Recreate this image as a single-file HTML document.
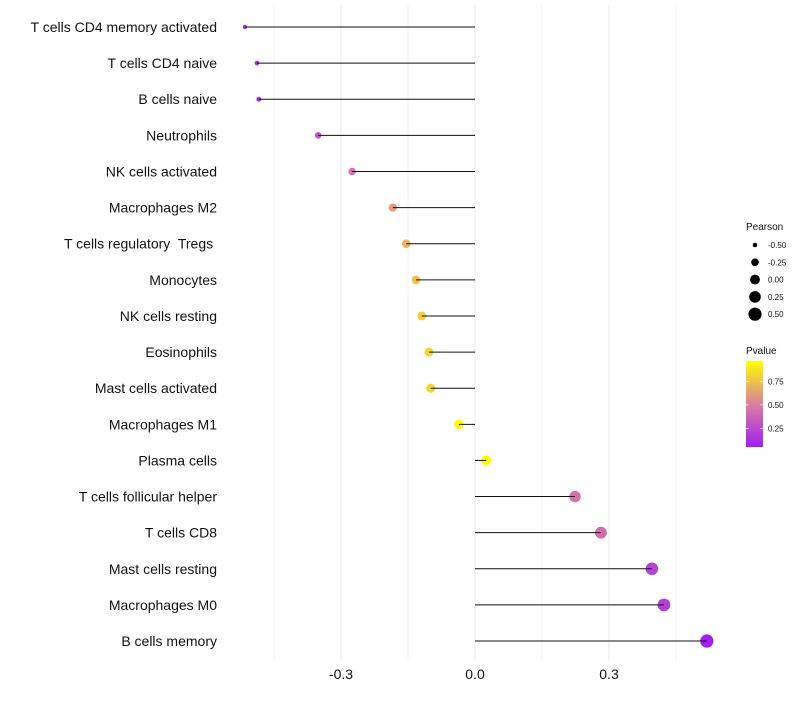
<!DOCTYPE html>
<html><head><meta charset="utf-8"><style>
body{margin:0;background:#fff;font-family:"Liberation Sans",sans-serif;}
</style></head><body>
<svg id="chart" width="800" height="700" xmlns="http://www.w3.org/2000/svg" font-family="Liberation Sans, sans-serif"></svg>
<script>
const categories=["T cells CD4 memory activated","T cells CD4 naive","B cells naive","Neutrophils","NK cells activated","Macrophages M2","T cells regulatory\u00a0 Tregs\u00a0","Monocytes","NK cells resting","Eosinophils","Mast cells activated","Macrophages M1","Plasma cells","T cells follicular helper","T cells CD8","Mast cells resting","Macrophages M0","B cells memory"];
const pearson=[-0.515,-0.488,-0.484,-0.351,-0.275,-0.184,-0.154,-0.132,-0.119,-0.103,-0.099,-0.036,0.025,0.224,0.282,0.396,0.423,0.519];
const pvalues=[0.08,0.1,0.1,0.32,0.45,0.62,0.7,0.76,0.8,0.82,0.82,0.96,0.96,0.45,0.42,0.22,0.2,0.05];
const xTicks=[-0.3,0,0.3];
const xTickLabels=["-0.3","0.0","0.3"];
const gridVals=[-0.45,-0.3,-0.15,0,0.15,0.3,0.45];
const sizeLegend=[-0.5,-0.25,0,0.25,0.5];
const sizeLegendLabels=["-0.50","-0.25","0.00","0.25","0.50"];
const colorTicks=[0.25,0.5,0.75];

const NS="http://www.w3.org/2000/svg";
const svg=document.getElementById('chart');
function el(t,a,p){const e=document.createElementNS(NS,t);for(const k in a)e.setAttribute(k,a[k]);(p||svg).appendChild(e);return e;}
const x=v=>475+v*446.7;
const y=i=>27+i*36.12;
const r=v=>Math.sqrt(4.5+Math.max(0,v+0.52)*38);
function lerp(a,b,t){return a.map((c,i)=>Math.round(c+(b[i]-c)*t));}
const stops=[[0,[160,32,240]],[0.5,[217,128,160]],[1,[255,255,0]]];
const pmin=0.05,pmax=0.97;
function col(p){let t=Math.max(0,Math.min(1,(p-pmin)/(pmax-pmin)));let c=t<0.5?lerp(stops[0][1],stops[1][1],t/0.5):lerp(stops[1][1],stops[2][1],(t-0.5)/0.5);return `rgb(${c})`;}

gridVals.forEach(g=>{const l=el('line',{x1:x(g),x2:x(g),y1:5,y2:660,stroke:'#ebebeb','stroke-width':xTicks.includes(g)?1.1:0.6});

});
xTicks.forEach((t,i)=>{const tx=el('text',{x:x(t),y:679,'text-anchor':'middle','font-size':14,fill:'#111'});tx.textContent=xTickLabels[i];

});
categories.forEach((c,i)=>{
const lb=el('text',{x:217,y:y(i)+5,'text-anchor':'end','font-size':14,fill:'#111'});lb.textContent=c;


const pt=el('circle',{cx:x(pearson[i]),cy:y(i),r:r(pearson[i]),fill:col(pvalues[i])});


const ln=el('line',{x1:x(0),x2:x(pearson[i]),y1:y(i),y2:y(i),stroke:'#111','stroke-width':1});


});
const st=el('text',{x:746,y:230,'font-size':10,fill:'#111'});st.textContent='Pearson';


sizeLegend.forEach((v,i)=>{const cy=245+i*17.3;
const c=el('circle',{cx:755,cy:cy,r:r(v),fill:'#000'});


const t=el('text',{x:768,y:cy+3,'font-size':8,fill:'#111'});t.textContent=sizeLegendLabels[i];

});
const ct=el('text',{x:746,y:354,'font-size':10,fill:'#111'});ct.textContent='Pvalue';


const defs=el('defs',{});const gr=el('linearGradient',{id:'g',x1:0,y1:1,x2:0,y2:0},defs);
[0,0.25,0.5,0.75,1].forEach(o=>el('stop',{offset:o,'stop-color':col(pmin+o*(pmax-pmin))},gr));
const bar=el('rect',{x:746,y:361,width:17,height:86,fill:'url(#g)'});


const cy=p=>447-(p-pmin)/(pmax-pmin)*86;
colorTicks.forEach(p=>{el('line',{x1:746,x2:749,y1:cy(p),y2:cy(p),stroke:'#fff','stroke-width':0.6});el('line',{x1:760,x2:763,y1:cy(p),y2:cy(p),stroke:'#fff','stroke-width':0.6});
const t=el('text',{x:768,y:cy(p)+3,'font-size':8,fill:'#111'});t.textContent=p.toFixed(2);

});
</script>
</body></html>
